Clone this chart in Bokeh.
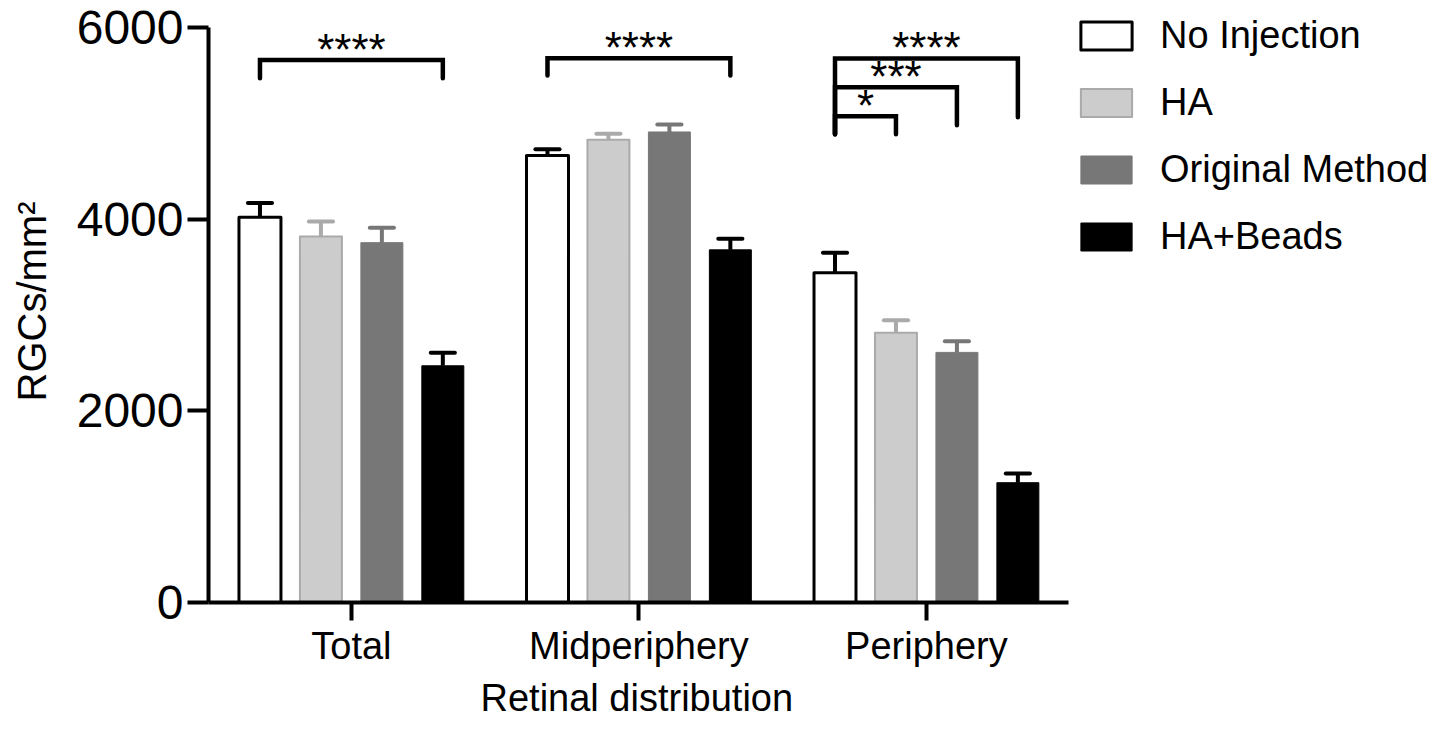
from bokeh.plotting import figure
from bokeh.models import FixedTicker, Legend, LegendItem, Range1d, ColumnDataSource, Title
from bokeh.core.properties import value
from bokeh.embed import file_html
from bokeh.resources import INLINE

# ---- data ----
categories = ["Total", "Midperiphery", "Periphery"]
series = ["No Injection", "HA", "Original Method", "HA+Beads"]
no_injection = [4020, 4665, 3440]
no_injection_err = [150, 65, 210]
ha = [3820, 4830, 2815]
ha_err = [155, 62, 130]
original_method = [3755, 4910, 2610]
original_method_err = [155, 78, 115]
ha_beads = [2470, 3680, 1250]
ha_beads_err = [135, 115, 95]
y_ticks = [0, 2000, 4000, 6000]

# significance brackets: group index, from series, to series, bracket level, drop ends, label
sig_group = [0, 1, 2, 2, 2]
sig_from = [0, 0, 0, 0, 0]
sig_to = [3, 3, 1, 2, 3]
sig_level = [5660, 5680, 5073, 5376, 5678]
sig_left_end = [5470, 5500, 4885, 4885, 4885]
sig_right_end = [5470, 5500, 4885, 4979, 5063]
sig_label = ["****", "****", "*", "***", "****"]

# ---- style ----
FONT = "Liberation Sans"
offsets = [-0.318, -0.106, 0.106, 0.318]
bar_w = 0.146
cap_half = 0.042
fills = ["white", "#cccccc", "#777777", "black"]
lines = ["black", "#aaaaaa", "#777777", "black"]
line_ws = [3, 2, 1, 1]
err_colors = ["black", "#aaaaaa", "#777777", "black"]
star_shift = -145

values = [no_injection, ha, original_method, ha_beads]
errs = [no_injection_err, ha_err, original_method_err, ha_beads_err]

x_axis_span = (0.503, 3.494)
p = figure(width=1436, height=724, output_backend="svg", toolbar_location=None,
           x_range=Range1d(0.503, 4.774), y_range=Range1d(0, 6282),
           min_border_left=208, min_border_right=0, min_border_top=0,
           min_border_bottom=122)
p.outline_line_color = None
p.xgrid.grid_line_color = None
p.ygrid.grid_line_color = None
p.background_fill_color = "white"
p.border_fill_color = "white"

renderers = []
for i, name in enumerate(series):
    xs = [g + 1 + offsets[i] for g in range(len(categories))]
    src = ColumnDataSource(dict(x=xs, top=values[i],
                                up=[v + e for v, e in zip(values[i], errs[i])],
                                x0=[x - cap_half for x in xs],
                                x1=[x + cap_half for x in xs]))
    # error bars (upper only)
    p.segment(x0="x", y0="top", x1="x", y1="up", source=src,
              line_color=err_colors[i], line_width=4)
    p.segment(x0="x0", y0="up", x1="x1", y1="up", source=src,
              line_color=err_colors[i], line_width=4, line_cap="round")
    r = p.vbar(x="x", top="top", bottom=0, width=bar_w, source=src,
               fill_color=fills[i], line_color=lines[i], line_width=line_ws[i],
               line_join="round")
    renderers.append(r)

# significance brackets
bx, by, tx, ty = [], [], [], []
for g, a, b, lvl, le, re_ in zip(sig_group, sig_from, sig_to, sig_level,
                                 sig_left_end, sig_right_end):
    xl = g + 1 + offsets[a]
    xr = g + 1 + offsets[b]
    bx.append([xl, xl, xr, xr])
    by.append([le, lvl, lvl, re_])
    tx.append((xl + xr) / 2)
    ty.append(lvl + star_shift)
p.multi_line(xs=bx, ys=by, line_color="black", line_width=4.5,
             line_cap="round", line_join="miter")
p.text(x=tx, y=ty, text=sig_label, text_font=value(FONT),
       text_font_size="44px", text_align="center", text_baseline="bottom",
       text_color="black")

# axes
xa = p.xaxis[0]
xa.ticker = FixedTicker(ticks=[1, 2, 3])
xa.bounds = x_axis_span
xa.major_label_overrides = {i + 1: c for i, c in enumerate(categories)}
ya = p.yaxis[0]
ya.ticker = FixedTicker(ticks=y_ticks)
ya.bounds = (0, 6000)
ya.axis_label = "RGCs/mm\u00b2"
for ax in (xa, ya):
    ax.axis_line_width = 4
    ax.axis_line_color = "black"
    ax.major_tick_line_width = 4
    ax.major_tick_line_color = "black"
    ax.major_tick_in = 0
    ax.minor_tick_line_color = None
    ax.major_label_text_font = FONT
    ax.major_label_text_color = "black"
    ax.axis_label_text_font = FONT
    ax.axis_label_text_font_style = "normal"
    ax.axis_label_text_color = "black"
xa.major_tick_out = 18
xa.major_label_text_font_size = "38px"
xa.major_label_standoff = 4
ya.major_tick_out = 21
ya.major_label_text_font_size = "48px"
ya.major_label_standoff = 4
ya.axis_label_text_font_size = "40px"
ya.axis_label_standoff = 20

# x-axis title, centred under the (bounded) axis line
p.add_layout(Title(text="Retinal distribution", align="left", offset=272,
                   text_font=FONT, text_font_size="38px",
                   text_font_style="normal", text_color="black", standoff=10),
             "below")

legend = Legend(items=[LegendItem(label=s, renderers=[r]) for s, r in zip(series, renderers)],
                location=(866, 344), padding=0, margin=0, spacing=24,
                glyph_width=64, glyph_height=35, label_standoff=22,
                label_text_font=FONT, label_text_font_size="38px",
                label_text_color="black",
                border_line_color=None, background_fill_alpha=0)
p.add_layout(legend)

open("out.html", "w").write(file_html(p, INLINE))
